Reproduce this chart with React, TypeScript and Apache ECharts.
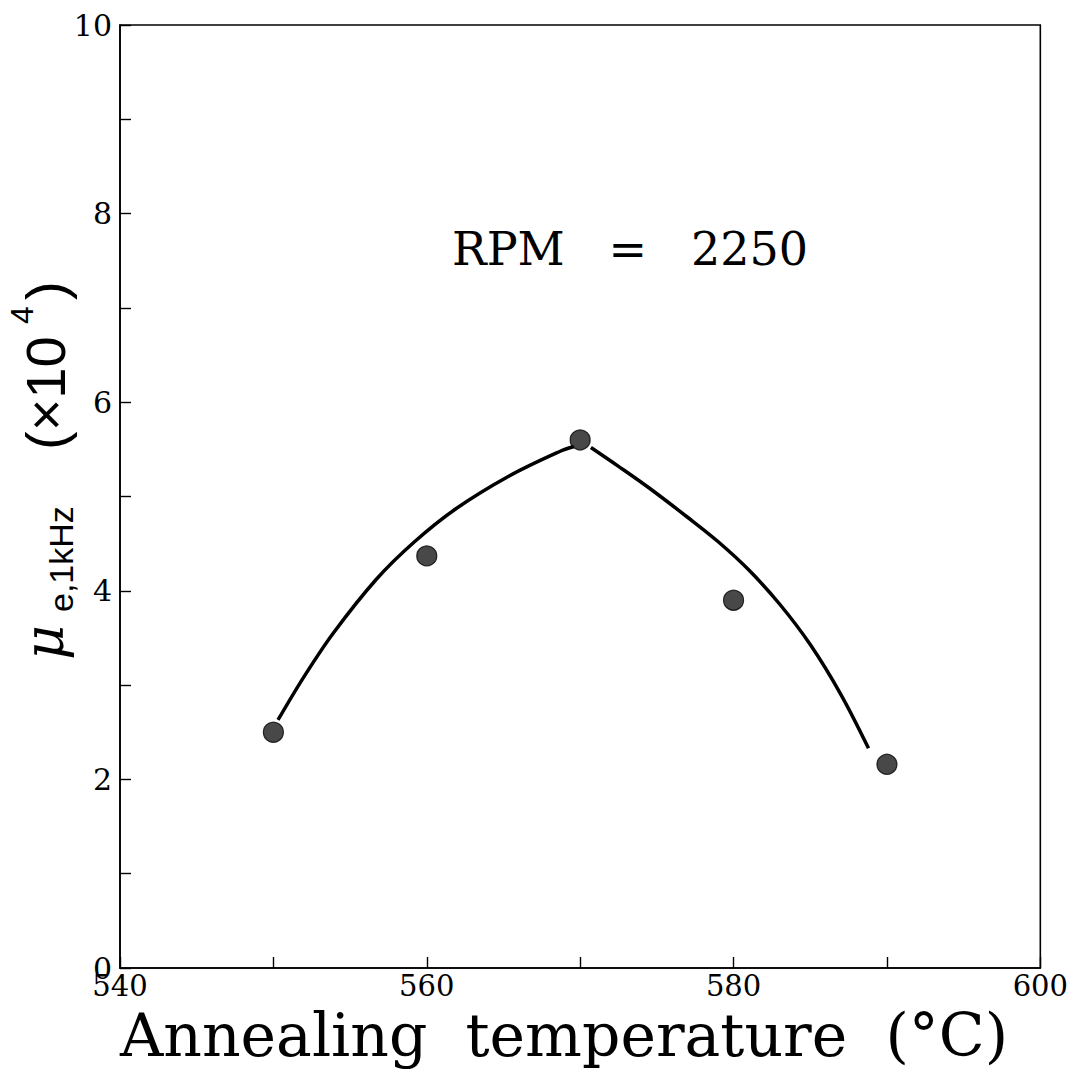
import React, { useEffect, useRef } from "react";
import * as echarts from "echarts";

const pointTemps = [550, 560, 570, 580, 590];
const pointValues = [2.5, 4.37, 5.6, 3.9, 2.16];

const leftCurveTemps = [550.3, 552, 553.9, 556.7, 559.2, 561.9, 565.4, 568.7, 569.6];
const leftCurveValues = [2.63, 3.09, 3.55, 4.12, 4.52, 4.87, 5.22, 5.48, 5.53];

const rightCurveTemps = [570.7, 572.5, 574.5, 577, 579, 581, 583, 585, 587, 588.8];
const rightCurveValues = [5.52, 5.32, 5.09, 4.78, 4.52, 4.22, 3.86, 3.43, 2.9, 2.33];

const xTickLabels = ["540", "560", "580", "600"];
const yTickLabels = ["0", "2", "4", "6", "8", "10"];

const xTitle = "Annealing  temperature  (°C)";
const annotation = "RPM   =   2250";

export default function App() {
  const ref = useRef<HTMLDivElement>(null);
  useEffect(() => {
    if (!ref.current) return;
    const chart = echarts.init(ref.current, null, { renderer: "svg" });
    const serif = '"DejaVu Serif"';
    const sans = '"Liberation Sans"';
    const axisCommon = {
      axisLine: { show: true, lineStyle: { color: "#000", width: 1.6 } },
      axisTick: { show: true, inside: true, length: 11, lineStyle: { color: "#000", width: 1.4 } },
      splitLine: { show: false },
    };
    chart.setOption({
      animation: false,
      backgroundColor: "#fff",
      grid: {
        left: 120,
        right: 28,
        top: 25,
        bottom: 106,
        show: true,
        borderColor: "#000",
        borderWidth: 1.6,
        backgroundColor: "transparent",
      },
      xAxis: {
        type: "value",
        min: 540,
        max: 600,
        interval: 10,
        ...axisCommon,
        axisLabel: {
          color: "#000",
          fontFamily: serif,
          fontSize: 29,
          margin: 3,
          formatter: (v: number) => (xTickLabels.includes(String(v)) ? String(v) : ""),
        },
      },
      yAxis: {
        type: "value",
        min: 0,
        max: 10,
        interval: 1,
        ...axisCommon,
        axisLabel: {
          color: "#000",
          fontFamily: serif,
          fontSize: 30,
          margin: 8,
          formatter: (v: number) => (yTickLabels.includes(String(v)) ? String(v) : ""),
        },
      },
      series: [
        {
          type: "line",
          data: leftCurveTemps.map((t, i) => [t, leftCurveValues[i]]),
          smooth: 0.35,
          symbol: "none",
          lineStyle: { color: "#000", width: 3.5 },
          z: 2,
        },
        {
          type: "line",
          data: rightCurveTemps.map((t, i) => [t, rightCurveValues[i]]),
          smooth: 0.35,
          symbol: "none",
          lineStyle: { color: "#000", width: 3.5 },
          z: 2,
        },
        {
          type: "scatter",
          data: pointTemps.map((t, i) => [t, pointValues[i]]),
          symbol: "circle",
          symbolSize: 20,
          itemStyle: {
            color: "#1a1a1a",
            borderColor: "#000",
            borderWidth: 1.2,
            decal: {
              symbol: "rect",
              symbolSize: 1,
              dashArrayX: [[1, 0]],
              dashArrayY: [2, 3],
              rotation: 0,
              color: "rgba(255,255,255,0.85)",
            },
          },
          z: 3,
        },
      ],
      graphic: [
        {
          type: "text",
          x: 452,
          y: 249,
          style: {
            text: annotation,
            font: `46px ${serif}`,
            fill: "#000",
            verticalAlign: "middle",
            align: "left",
          },
        },
        {
          type: "text",
          x: 120,
          y: 1035,
          style: {
            text: xTitle,
            font: `60px ${serif}`,
            fill: "#000",
            verticalAlign: "middle",
            align: "left",
          },
        },
        {
          type: "group",
          x: 65,
          y: 662,
          rotation: Math.PI / 2,
          children: [
            {
              type: "text",
              x: 2,
              y: -21,
              style: {
                text: "μ",
                font: `italic 54px ${serif}`,
                fill: "#000",
                verticalAlign: "middle",
                align: "left",
              },
            },
            {
              type: "text",
              x: 50,
              y: -4,
              style: {
                text: "e,1kHz",
                font: `34px ${sans}`,
                fill: "#000",
                verticalAlign: "middle",
                align: "left",
              },
            },
            {
              type: "text",
              x: 212,
              y: -20,
              style: {
                text: "(×10",
                font: `56px ${sans}`,
                fill: "#000",
                verticalAlign: "middle",
                align: "left",
              },
            },
            {
              type: "text",
              x: 338,
              y: -43,
              style: {
                text: "4",
                font: `32px ${sans}`,
                fill: "#000",
                verticalAlign: "middle",
                align: "left",
              },
            },
            {
              type: "text",
              x: 362,
              y: -20,
              style: {
                text: ")",
                font: `56px ${sans}`,
                fill: "#000",
                verticalAlign: "middle",
                align: "left",
              },
            },
          ],
        },
      ],
    });
    return () => chart.dispose();
  }, []);
  return (
    <div
      ref={ref}
      style={{ position: "absolute", left: 0, top: 0, width: 1071, height: 1074 }}
    />
  );
}
